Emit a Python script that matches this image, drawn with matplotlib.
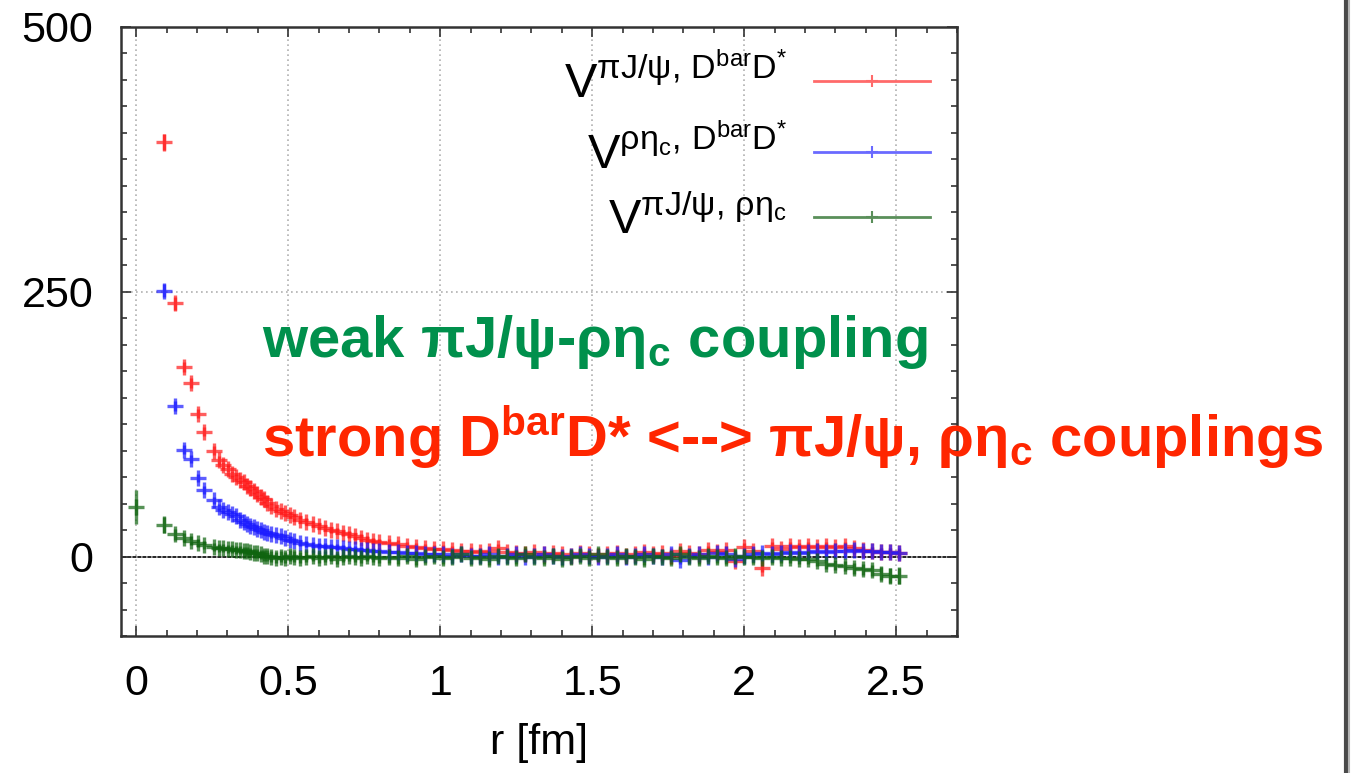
import numpy as np
import matplotlib
matplotlib.use("Agg")
import matplotlib.pyplot as plt
from matplotlib.lines import Line2D
from matplotlib.ticker import MultipleLocator

plt.rcParams['font.family'] = ['Liberation Sans', 'DejaVu Sans']
plt.rcParams['mathtext.fontset'] = 'custom'
plt.rcParams['mathtext.rm'] = 'Liberation Sans'
plt.rcParams['mathtext.it'] = 'Liberation Sans:italic'
plt.rcParams['mathtext.bf'] = 'Liberation Sans:bold'

# r [fm]
r = [0.000, 0.091, 0.128, 0.157, 0.181, 0.203, 0.222, 0.257, 0.272, 0.287,
     0.301, 0.315, 0.328, 0.340, 0.353, 0.365, 0.376, 0.388, 0.399, 0.410,
     0.420, 0.431, 0.445, 0.460, 0.475, 0.490, 0.505, 0.520, 0.540, 0.560,
     0.580, 0.600, 0.620, 0.640, 0.660, 0.680, 0.700, 0.720, 0.740, 0.760,
     0.780, 0.800,
     0.83, 0.86, 0.89, 0.92, 0.95, 0.98, 1.01, 1.04, 1.07, 1.10,
     1.13, 1.16, 1.19, 1.22, 1.25, 1.28, 1.31, 1.34, 1.37, 1.40,
     1.43, 1.46, 1.49, 1.52, 1.55, 1.58, 1.61, 1.64, 1.67, 1.70,
     1.73, 1.76, 1.79, 1.82, 1.85, 1.88, 1.91, 1.94, 1.97, 2.00,
     2.03, 2.06, 2.09, 2.12, 2.15, 2.18, 2.21, 2.24, 2.27, 2.30,
     2.33, 2.36, 2.39, 2.42, 2.45, 2.48, 2.51]

v_pij_dd = [np.nan, 391, 239, 179, 164, 135, 118, 100, 91, 86,
            83, 78, 75, 72, 70, 67, 65, 62, 59, 56,
            54, 51, 48, 45, 43, 41, 39, 37, 35, 33,
            31, 29, 27, 25, 24, 22, 21, 19, 18, 16,
            15, 14,
            13, 12, 10, 9, 8, 7, 7, 6, 5, 5,
            4, 5, 8, 4, 3, 2, 4, 2, 3, 2,
            1, 3, 2, 1, 2, 3, 1, 2, 4, 2,
            3, 1, 5, 3, 2, 6, 4, 6, -4, 9,
            5, -11, 10, 7, 10, 9, 10, 9, 10, 9,
            10, 8, 6, 5, 4, 4, 3]
e_pij_dd = [0, 8, 6, 5, 5, 4, 4, 4, 4, 3,
            3, 3, 3, 3, 3, 3, 3, 3, 3, 3,
            3, 3, 3, 3, 3, 3, 3, 3, 3, 3,
            3, 3, 3, 3, 3, 3, 3, 3, 3, 3,
            3, 3,
            4, 4, 4, 4, 4, 4, 4, 4, 4, 4,
            4, 4, 4, 4, 4, 4, 4, 4, 4, 4,
            4, 4, 4, 4, 4, 4, 4, 4, 4, 4,
            4, 4, 4, 4, 4, 4, 4, 4, 4, 4,
            4, 4, 4, 4, 4, 4, 4, 4, 4, 4,
            4, 4, 4, 4, 4, 4, 4]

v_rhoeta_dd = [np.nan, 251, 142, 101, 92, 74, 63, 53, 47, 44,
               42, 40, 38, 35, 33, 31, 29, 28, 26, 25,
               23, 22, 21, 20, 19, 18, 16, 15, 13, 12,
               11, 10, 10, 9, 9, 8, 7, 7, 6, 6,
               5, 5,
               4, 4, 3, 3, 2, 2, 2, 1, 2, 1,
               1, 2, 0, 1, 2, 0, 1, 2, 1, 0,
               1, 2, 1, 0, 1, 2, 0, 1, 2, 1,
               0, 2, -3, 1, 2, 0, 3, 2, -2, 1,
               2, 3, 2, 3, 4, 3, 4, 5, 4, 5,
               5, 6, 5, 5, 4, 4, 3]
e_rhoeta_dd = [0, 6, 5, 4, 4, 4, 4, 3, 3, 3,
               3, 3, 3, 3, 3, 3, 3, 3, 3, 3,
               3, 3, 3, 3, 3, 3, 3, 3, 3, 3,
               3, 3, 3, 3, 3, 3, 3, 3, 3, 3,
               3, 3,
               4, 4, 4, 4, 4, 4, 4, 4, 4, 4,
               4, 4, 4, 4, 4, 4, 4, 4, 4, 4,
               4, 4, 4, 4, 4, 4, 4, 4, 4, 4,
               4, 4, 4, 4, 4, 4, 4, 4, 4, 4,
               4, 4, 4, 4, 4, 4, 4, 4, 4, 4,
               4, 4, 4, 4, 4, 4, 5]

v_pij_rhoeta = [47, 30, 21, 18, 15, 13, 11, 9, 8, 8,
                7, 7, 6, 6, 5, 5, 4, 3, 3, 2,
                1, 1, 0, -1, 0, -1, 1, 0, -1, 0,
                1, -1, 0, 1, -2, 0, 1, 0, -1, 1,
                0, -1,
                0, -1, 1, -2, 0, 1, -1, 0, 2, -1,
                0, -2, 1, 0, -1, 2, 0, -1, 1, -2,
                0, 1, -1, 2, 0, -1, 1, 0, -2, 1,
                0, -1, 2, 0, -1, 1, 0, -1, 1, 0,
                0, -1, 0, -1, -1, -2, -2, -4, -7, -8,
                -9, -11, -12, -13, -16, -18, -18]
e_pij_rhoeta = [16, 8, 5, 4, 4, 4, 4, 4, 4, 4,
                4, 4, 4, 4, 4, 4, 4, 4, 4, 4,
                5, 5, 5, 5, 5, 5, 5, 5, 5, 5,
                5, 5, 5, 5, 5, 5, 5, 5, 5, 5,
                5, 5,
                6, 6, 6, 6, 6, 6, 6, 6, 6, 6,
                6, 6, 6, 6, 6, 6, 6, 6, 6, 6,
                6, 6, 6, 6, 6, 6, 6, 6, 6, 6,
                6, 6, 6, 6, 6, 6, 6, 6, 6, 6,
                6, 6, 6, 5, 5, 5, 5, 5, 5, 5,
                5, 5, 5, 5, 6, 7, 8]

labels = [r"$\mathrm{V}^{\mathrm{πJ/ψ,\,D^{bar}D^{*}}}$",
          r"$\mathrm{V}^{\mathrm{ρη_{c},\,D^{bar}D^{*}}}$",
          r"$\mathrm{V}^{\mathrm{πJ/ψ,\,ρη_{c}}}$"]
colors = ['#ff1a1a', '#1a1aff', '#0f640f']
legend_colors = ['#ff6a6a', '#6a6aff', '#5a8f5a']

xticks = [0, 0.5, 1, 1.5, 2, 2.5]
xtick_labels = ['0', '0.5', '1', '1.5', '2', '2.5']
yticks = [0, 250, 500]
ytick_labels = ['0', '250', '500']

fig = plt.figure(figsize=(13.58, 7.73), dpi=100)
ax = fig.add_axes([0.0891, 0.1772, 0.6156, 0.7879])

ax.axhline(0, color='black', lw=1.2, zorder=1)
series = [(v_pij_dd, e_pij_dd), (v_rhoeta_dd, e_rhoeta_dd), (v_pij_rhoeta, e_pij_rhoeta)]
for (v, e), c in zip(series, colors):
    ax.errorbar(r, v, yerr=e, fmt='+', color=c, ms=12, mew=2.4,
                elinewidth=2.4, capsize=0, alpha=0.7, zorder=2)

ax.set_xlim(-0.05, 2.70)
ax.set_ylim(-75, 500)
ax.set_xticks(xticks)
ax.set_xticklabels(xtick_labels)
ax.set_yticks(yticks)
ax.set_yticklabels(ytick_labels)
ax.xaxis.set_minor_locator(MultipleLocator(0.1))
ax.yaxis.set_minor_locator(MultipleLocator(25))
ax.tick_params(which='both', direction='in', top=True, right=True,
               color='#333333', width=1.2)
ax.tick_params(which='major', length=7, labelsize=31, pad=20)
ax.tick_params(which='minor', length=4)
ax.grid(True, which='major', color='#b0b0b0', ls=(0, (1, 2)), lw=1.2)
for s in ax.spines.values():
    s.set_color('#333333')
    s.set_linewidth(1.8)
ax.set_xlabel('r [fm]', fontsize=31, labelpad=14)

handles = [Line2D([], [], color=c, lw=2, marker='+', ms=8, mew=1.5) for c in legend_colors]
ax.legend(handles, labels, loc='upper right', bbox_to_anchor=(0.968, 0.952),
          frameon=False, markerfirst=False, fontsize=35, handlelength=2.4,
          handletextpad=0.55, labelspacing=0.38, borderpad=0, borderaxespad=0)

fig.text(262 / 1358, 1 - 357 / 773, r"weak πJ/ψ-ρη$_{\mathbf{c}}$ coupling",
         color='#00904c', fontsize=41.8, fontweight='bold', va='baseline')
fig.text(262 / 1358, 1 - 456 / 773,
         r"strong D$^{\mathbf{bar}}$D* <--> πJ/ψ, ρη$_{\mathbf{c}}$ couplings",
         color='#ff2600', fontsize=41.8, fontweight='bold', va='baseline')

# slide border on the right
fig.add_artist(Line2D([1345.5 / 1358] * 2, [0, 1], transform=fig.transFigure,
                      color='#4a4a4a', lw=3))
fig.add_artist(Line2D([1348.5 / 1358] * 2, [0, 1], transform=fig.transFigure,
                      color='#b5b5b5', lw=1.5))

fig.savefig('out.png', dpi=100)
